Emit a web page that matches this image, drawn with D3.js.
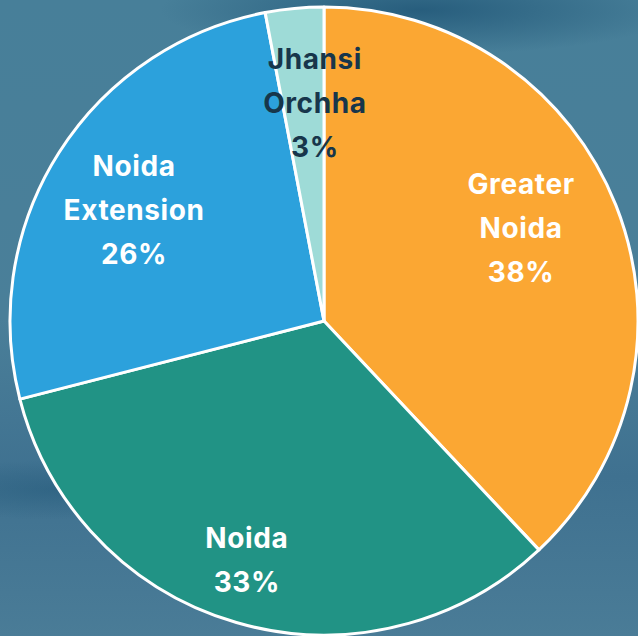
<!DOCTYPE html>
<html><head><meta charset="utf-8">
<script src="https://cdn.jsdelivr.net/npm/d3@7"></script>
<style>html,body{margin:0;padding:0;background:#4a7e98;overflow:hidden}</style>
</head><body>
<svg id="c" width="638" height="636"></svg>
<script>
const categories = ["Greater Noida", "Noida", "Noida Extension", "Jhansi Orchha"];
const labelLines = [["Greater", "Noida"], ["Noida"], ["Noida", "Extension"], ["Jhansi", "Orchha"]];
const values = [38, 33, 26, 3];
const colors = ["#fba733", "#219385", "#2ca1dc", "#9edbd7"];
const textColors = ["#ffffff", "#ffffff", "#ffffff", "#17364b"];

const W = 638, H = 636, cx = 324, cy = 321, R = 314;
const labelR = [218, 251, 220, 218];
const labelShiftDeg = [-3.7, 1.7, -2.1, 3];
const svg = d3.select("#c");
const defs = svg.append("defs");

// background
const bg = defs.append("linearGradient").attr("id","bg").attr("x1",0).attr("y1",0).attr("x2",0).attr("y2",1);
bg.append("stop").attr("offset","0").attr("stop-color","#477f99");
bg.append("stop").attr("offset","0.5").attr("stop-color","#4a7f99");
bg.append("stop").attr("offset","0.75").attr("stop-color","#3f7190");
bg.append("stop").attr("offset","1").attr("stop-color","#4a7c97");
svg.append("rect").attr("width",W).attr("height",H).attr("fill","url(#bg)");
const tg = defs.append("radialGradient").attr("id","tg").attr("cx","0.5").attr("cy","0.5").attr("r","0.5");
tg.append("stop").attr("offset","0").attr("stop-color","#245a7a").attr("stop-opacity",0.9);
tg.append("stop").attr("offset","1").attr("stop-color","#245a7a").attr("stop-opacity",0);
svg.append("ellipse").attr("cx",420).attr("cy",10).attr("rx",260).attr("ry",45).attr("fill","url(#tg)");
svg.append("ellipse").attr("cx",60).attr("cy",490).attr("rx",160).attr("ry",30).attr("fill","url(#tg)").attr("opacity",0.6);

const pie = d3.pie().sort(null).value(d => d)(values);
const arc = d3.arc().innerRadius(0).outerRadius(R);
const g = svg.append("g").attr("transform", `translate(${cx},${cy})`);
g.selectAll("path").data(pie).join("path")
  .attr("d", arc).attr("fill", (d,i) => colors[i])
  .attr("stroke", "#fff").attr("stroke-width", 3).attr("stroke-linejoin","round");

const lh = 44;
pie.forEach((d, i) => {
  const a = (d.startAngle + d.endAngle) / 2 + labelShiftDeg[i] * Math.PI / 180;
  const x = Math.sin(a) * labelR[i], y = -Math.cos(a) * labelR[i];
  const lines = labelLines[i].concat([values[i] + "%"]);
  const t = g.append("text").attr("text-anchor","middle")
    .attr("font-family","Inter, 'Open Sans', sans-serif").attr("font-weight",700)
    .attr("font-size",28).attr("letter-spacing",0.6).attr("fill",textColors[i]);
  const y0 = y - (lines.length - 1) * lh / 2;
  lines.forEach((l, k) => t.append("tspan").attr("x", x).attr("y", y0 + k * lh).attr("dy","0.35em").text(l));
});
</script>
</body></html>
